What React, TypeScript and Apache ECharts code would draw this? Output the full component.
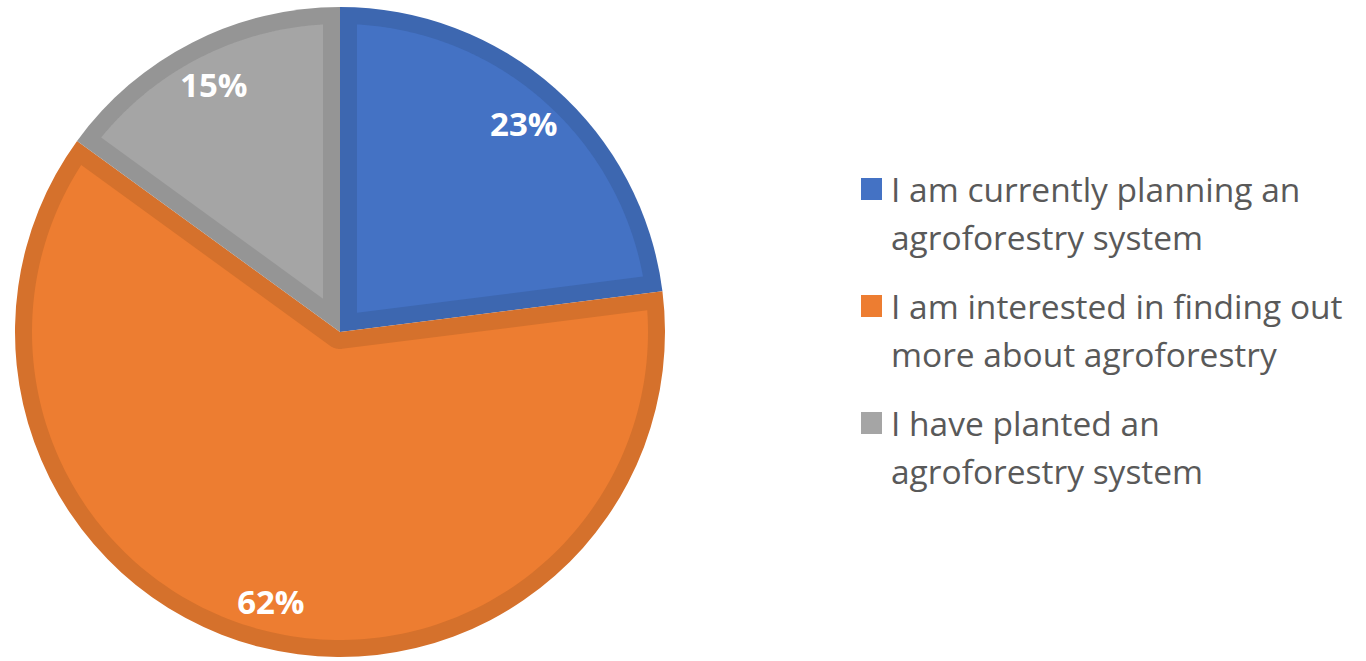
import React, { useEffect, useRef } from "react";
import * as echarts from "echarts";

const categories = [
  "I am currently planning an\nagroforestry system",
  "I am interested in finding out\nmore about agroforestry",
  "I have planted an\nagroforestry system",
];
const values = [23, 62, 15];
const fillColors = ["#4472C4", "#ED7D31", "#A5A5A5"];
const edgeColors = ["#3D67B0", "#D5712C", "#959595"];

const CX = 340;
const CY = 332;
const R = 325;
const D = 17;

function insetPolygon(aS: number, aE: number): number[][] {
  const theta = aS - aE;
  const u1 = [Math.cos(aS), Math.sin(aS)];
  const n1 = [Math.sin(aS), -Math.cos(aS)];
  const u2 = [Math.cos(aE), Math.sin(aE)];
  const n2 = [-Math.sin(aE), Math.cos(aE)];
  const Ri = R - D;
  const t = Math.sqrt(Ri * Ri - D * D);
  const Q1 = [D * n1[0] + t * u1[0], D * n1[1] + t * u1[1]];
  const Q2 = [D * n2[0] + t * u2[0], D * n2[1] + t * u2[1]];
  const phi1 = Math.atan2(Q1[1], Q1[0]);
  let phi2 = Math.atan2(Q2[1], Q2[0]);
  while (phi2 > phi1) phi2 -= 2 * Math.PI;
  const pts: number[][] = [];
  const N = 160;
  if (theta <= Math.PI) {
    const mid = (aS + aE) / 2;
    const dist = D / Math.sin(theta / 2);
    pts.push([dist * Math.cos(mid), dist * Math.sin(mid)]);
    for (let k = 0; k <= N; k++) {
      const a = phi1 + ((phi2 - phi1) * k) / N;
      pts.push([Ri * Math.cos(a), Ri * Math.sin(a)]);
    }
  } else {
    pts.push([D * n1[0], D * n1[1]]);
    for (let k = 0; k <= N; k++) {
      const a = phi1 + ((phi2 - phi1) * k) / N;
      pts.push([Ri * Math.cos(a), Ri * Math.sin(a)]);
    }
    const b1 = aE + Math.PI / 2;
    const b2 = aS - Math.PI / 2;
    for (let k = 0; k <= 30; k++) {
      const a = b1 + ((b2 - b1) * k) / 30;
      pts.push([D * Math.cos(a), D * Math.sin(a)]);
    }
  }
  return pts.map((p) => [CX + p[0], CY - p[1]]);
}

export default function App() {
  const ref = useRef<HTMLDivElement>(null);
  useEffect(() => {
    if (!ref.current) return;
    const chart = echarts.init(ref.current, undefined, { renderer: "svg" });
    const total = values.reduce((a, b) => a + b, 0);
    const pieData = categories.map((name, i) => ({ name, value: values[i] }));
    const legendFont = {
      fontFamily: "Open Sans",
      fontSize: 33.5,
      color: "#595959",
      lineHeight: 48,
    };
    chart.setOption({
      animation: false,
      backgroundColor: "#ffffff",
      legend: {
        orient: "vertical",
        left: 861,
        top: 117,
        padding: 0,
        itemWidth: 21,
        itemHeight: 22,
        itemGap: -27,
        icon: "rect",
        selectedMode: false,
        itemStyle: { borderWidth: 0 },
        data: categories.map((name, i) => ({ name, itemStyle: { color: fillColors[i] } })),
        formatter: (name: string) =>
          "\n" + name.split("\n").map((l) => "{t|" + l + "}").join("\n"),
        textStyle: {
          ...legendFont,
          rich: { t: { ...legendFont, padding: [0, 0, 0, 4] } },
        },
      },
      series: [
        {
          type: "pie",
          z: 1,
          center: [CX, CY],
          radius: [0, R],
          startAngle: 90,
          clockwise: true,
          silent: true,
          data: pieData.map((d, i) => ({ ...d, itemStyle: { color: edgeColors[i] } })),
          label: { show: false },
          labelLine: { show: false },
          emphasis: { disabled: true },
        },
        {
          type: "custom",
          coordinateSystem: "none",
          z: 5,
          silent: true,
          dimensions: ["idx", "value"],
          data: values.map((v, i) => [i, v]),
          renderItem: (params: any, api: any) => {
            const i = params.dataIndex;
            let v = Number(api.value(1));
            if (!isFinite(v)) v = values[i];
            let before = 0;
            for (let k = 0; k < i; k++) before += values[k];
            const aS = Math.PI / 2 - (before / total) * 2 * Math.PI;
            const aE = aS - (v / total) * 2 * Math.PI;
            return {
              type: "polygon",
              shape: { points: insetPolygon(aS, aE) },
              style: { fill: fillColors[i] },
            };
          },
        },
        {
          type: "pie",
          z: 8,
          center: [CX, CY],
          radius: [225, R],
          startAngle: 90,
          clockwise: true,
          silent: true,
          data: pieData,
          itemStyle: { color: "rgba(0,0,0,0)" },
          label: {
            show: true,
            position: "inside",
            formatter: (p: any) => Math.round(p.percent) + "%",
            color: "#ffffff",
            fontFamily: "Open Sans",
            fontWeight: "bold",
            fontSize: 33,
          },
          labelLine: { show: false },
          emphasis: { disabled: true },
        },
      ],
    });
    return () => chart.dispose();
  }, []);
  return (
    <div
      ref={ref}
      style={{ position: "fixed", left: 0, top: 0, width: 1366, height: 661 }}
    />
  );
}
